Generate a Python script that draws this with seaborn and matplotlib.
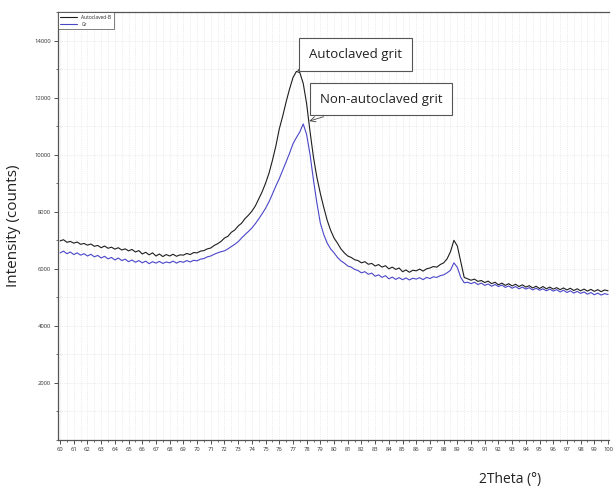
import numpy as np
import pandas as pd
import matplotlib
matplotlib.use("Agg")
import matplotlib.pyplot as plt
import seaborn as sns
from matplotlib.ticker import MultipleLocator

# 2Theta from 60 to 100 deg in 0.25 deg steps
two_theta = np.round(np.arange(60.0, 100.001, 0.25), 2)

autoclaved = [
    6980, 7020, 6930, 6960, 6900, 6940, 6860, 6890,
    6830, 6870, 6790, 6820, 6740, 6800, 6720, 6760,
    6690, 6740, 6660, 6700, 6630, 6680, 6590, 6640,
    6520, 6580, 6490, 6560, 6450, 6520, 6430, 6500,
    6450, 6510, 6440, 6490, 6480, 6540, 6500, 6570,
    6560, 6620, 6640, 6700, 6730, 6820, 6880, 6960,
    7080, 7140, 7280, 7360, 7500, 7600, 7760, 7880,
    8020, 8200, 8450, 8700, 9000, 9350, 9800, 10300,
    10900, 11350, 11850, 12300, 12700, 12920, 12880, 12500,
    11780, 10800, 9900, 9200, 8640, 8150, 7700, 7350,
    7080, 6900, 6700, 6560, 6450, 6400, 6320, 6290,
    6210, 6250, 6160, 6190, 6100, 6150, 6060, 6110,
    6000, 6060, 5980, 6030, 5900, 5960, 5880, 5950,
    5930, 5990, 5920, 6000, 6030, 6080, 6060, 6150,
    6210, 6350, 6600, 7000, 6800, 6250, 5700, 5650,
    5600, 5640, 5560, 5590, 5520, 5570, 5480, 5530,
    5440, 5500, 5420, 5480, 5400, 5460, 5380, 5440,
    5360, 5410, 5330, 5390, 5310, 5380, 5300, 5360,
    5290, 5340, 5270, 5330, 5260, 5320, 5240, 5300,
    5230, 5290, 5220, 5280, 5210, 5270, 5200, 5260,
    5230,
]

non_autoclaved = [
    6560, 6620, 6530, 6590, 6500, 6560, 6480, 6530,
    6450, 6510, 6420, 6470, 6380, 6440, 6350, 6400,
    6310, 6380, 6290, 6340, 6250, 6310, 6230, 6290,
    6210, 6270, 6180, 6250, 6200, 6260, 6190, 6240,
    6210, 6270, 6200, 6260, 6230, 6290, 6240, 6300,
    6280, 6340, 6360, 6420, 6450, 6510, 6560, 6600,
    6630, 6700, 6780, 6860, 6950, 7080, 7200, 7310,
    7430, 7580, 7750, 7930, 8120, 8350, 8620, 8900,
    9160, 9450, 9750, 10050, 10380, 10600, 10800, 11080,
    10700, 10000, 9100, 8300, 7600, 7200, 6900, 6700,
    6560, 6400, 6280, 6200, 6100, 6060, 5980, 5940,
    5860, 5900, 5810, 5850, 5740, 5790, 5700, 5760,
    5650, 5710, 5630, 5690, 5620, 5680, 5610, 5670,
    5640, 5690, 5620, 5700, 5660, 5720, 5700, 5760,
    5790, 5860, 5950, 6210, 6050, 5700, 5510, 5530,
    5480, 5530, 5450, 5500, 5420, 5470, 5390, 5450,
    5380, 5430, 5350, 5400, 5320, 5380, 5300, 5360,
    5290, 5340, 5260, 5320, 5250, 5300, 5230, 5290,
    5220, 5270, 5190, 5250, 5170, 5230, 5150, 5210,
    5140, 5190, 5110, 5170, 5090, 5150, 5080, 5130,
    5100,
]

series_names = ["Autoclaved-B", "Gr"]
x_ticks = list(range(60, 101))
y_ticks = [2000, 4000, 6000, 8000, 10000, 12000, 14000]

df = pd.DataFrame({
    "2Theta": np.concatenate([two_theta, two_theta]),
    "Intensity": np.concatenate([autoclaved, non_autoclaved]),
    "Sample": [series_names[0]] * len(two_theta) + [series_names[1]] * len(two_theta),
})

sns.set_theme(style="white")
plt.rcParams["font.family"] = ["Open Sans", "DejaVu Sans"]

fig = plt.figure(figsize=(6.14, 4.93), dpi=100)
ax = fig.add_axes([0.0945, 0.1075, 0.898, 0.868])

sns.lineplot(data=df, x="2Theta", y="Intensity", hue="Sample",
             palette={"Autoclaved-B": "#1e1e1e", "Gr": "#4a46c8"},
             linewidth=0.8, ax=ax, legend=True)

ax.set_xlim(59.85, 100.1)
ax.set_ylim(0, 15000)
ax.set_xticks(x_ticks)
ax.set_xticklabels([str(t) for t in x_ticks], fontsize=4.2)
ax.set_yticks(y_ticks)
ax.set_yticklabels([str(t) for t in y_ticks], fontsize=4.2)
ax.xaxis.set_minor_locator(MultipleLocator(0.5))
ax.yaxis.set_minor_locator(MultipleLocator(1000))
ax.tick_params(axis="both", which="major", direction="out", length=3, width=0.6,
               pad=2, colors="#333333", bottom=True, left=True)
ax.tick_params(axis="both", which="minor", direction="out", length=1.5, width=0.5,
               bottom=True, left=True, colors="#333333")
ax.grid(True, which="both", linestyle=":", linewidth=0.5, color="#dcdcdc")

for s in ["left", "bottom", "top"]:
    ax.spines[s].set_color("#555555")
    ax.spines[s].set_linewidth(0.9)
ax.spines["right"].set_visible(False)

ax.set_xlabel("2Theta (°)", fontsize=10, color="#222222")
ax.xaxis.set_label_coords(0.82, -0.075)
ax.set_ylabel("Intensity (counts)", fontsize=11, color="#222222", labelpad=10)

leg = ax.legend(loc="upper left", fontsize=3.5, frameon=True, handlelength=3.5,
                borderpad=0.5, labelspacing=0.5, fancybox=False,
                bbox_to_anchor=(0.0, 1.0), borderaxespad=0.0)
leg.get_frame().set_edgecolor("#444444")
leg.get_frame().set_linewidth(0.6)
leg.set_title(None)

box = dict(boxstyle="square,pad=0.75", facecolor="white", edgecolor="#555555", linewidth=0.8)
ax.annotate("Autoclaved grit", xy=(77.3, 12950), xytext=(78.2, 13520),
            fontsize=9.5, color="#222222", ha="left", va="center", bbox=box,
            arrowprops=dict(arrowstyle="->", color="#444444", lw=0.6))
ax.annotate("Non-autoclaved grit", xy=(78.0, 11150), xytext=(78.95, 11950),
            fontsize=9.5, color="#222222", ha="left", va="center", bbox=box,
            arrowprops=dict(arrowstyle="->", color="#444444", lw=0.6))

fig.savefig("out.png", dpi=100, facecolor="white")
